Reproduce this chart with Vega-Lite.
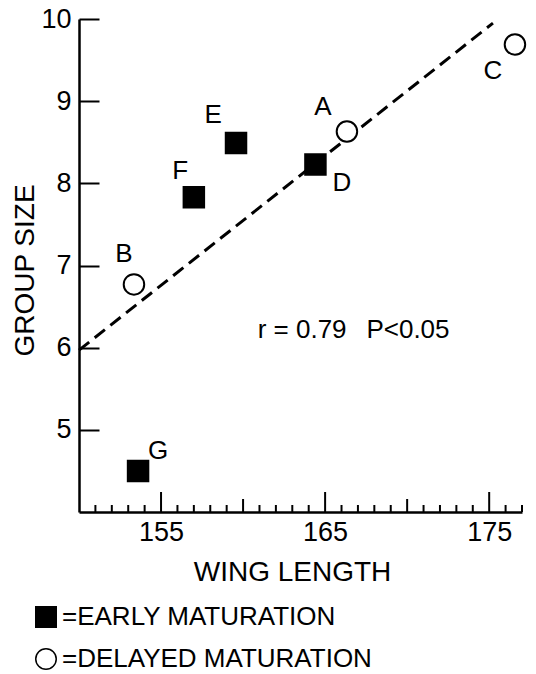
{
  "$schema": "https://vega.github.io/schema/vega-lite/v6.json",
  "width": 443,
  "height": 493,
  "autosize": "none",
  "padding": {"left": 79, "top": 19, "right": 14, "bottom": 162},
  "background": "white",
  "config": {
    "view": {"stroke": null},
    "font": "Liberation Sans",
    "axis": {
      "grid": false,
      "domainColor": "black",
      "domainWidth": 2.5,
      "tickColor": "black",
      "tickWidth": 2,
      "labelColor": "black",
      "labelFont": "Liberation Sans",
      "labelFontSize": 27,
      "titleColor": "black",
      "titleFont": "Liberation Sans",
      "titleFontSize": 28,
      "titleFontWeight": "normal",
      "labelOverlap": false,
      "labelFlush": false
    }
  },
  "datasets": {
    "pts": [
      {"name": "A", "wing": 166.33, "size": 8.63, "mat": "DELAYED MATURATION"},
      {"name": "B", "wing": 153.35, "size": 6.77, "mat": "DELAYED MATURATION"},
      {"name": "C", "wing": 176.57, "size": 9.69, "mat": "DELAYED MATURATION"},
      {"name": "D", "wing": 164.41, "size": 8.23, "mat": "EARLY MATURATION"},
      {"name": "E", "wing": 159.57, "size": 8.49, "mat": "EARLY MATURATION"},
      {"name": "F", "wing": 157.0, "size": 7.83, "mat": "EARLY MATURATION"},
      {"name": "G", "wing": 153.6, "size": 4.5, "mat": "EARLY MATURATION"}
    ],
    "fit": [
      {"wing": 150.0, "size": 5.97},
      {"wing": 175.23, "size": 9.95}
    ],
    "xt": [
      {"wing": 151}, {"wing": 152}, {"wing": 153}, {"wing": 154}, {"wing": 155},
      {"wing": 156}, {"wing": 157}, {"wing": 158}, {"wing": 159}, {"wing": 160},
      {"wing": 161}, {"wing": 162}, {"wing": 163}, {"wing": 164}, {"wing": 165},
      {"wing": 166}, {"wing": 167}, {"wing": 168}, {"wing": 169}, {"wing": 170},
      {"wing": 171}, {"wing": 172}, {"wing": 173}, {"wing": 174}, {"wing": 175},
      {"wing": 176}, {"wing": 177}
    ],
    "notes": [
      {"t": "A", "wing": 164.87, "size": 8.93},
      {"t": "B", "wing": 152.74, "size": 7.14},
      {"t": "C", "wing": 175.23, "size": 9.37},
      {"t": "D", "wing": 166.03, "size": 8.0},
      {"t": "E", "wing": 158.17, "size": 8.83},
      {"t": "F", "wing": 156.16, "size": 8.15},
      {"t": "G", "wing": 154.82, "size": 4.74},
      {"t": "r = 0.79", "wing": 163.6, "size": 6.22},
      {"t": "P<0.05", "wing": 170.05, "size": 6.22}
    ]
  },
  "layer": [
    {
      "data": {"name": "xt"},
      "transform": [{"filter": "datum.wing % 5 !== 0"}],
      "mark": {"type": "tick", "orient": "vertical", "size": 7, "thickness": 2, "yOffset": -3.5, "color": "black", "opacity": 1},
      "encoding": {
        "x": {"field": "wing", "type": "quantitative"},
        "y": {"datum": 4, "type": "quantitative"}
      }
    },
    {
      "data": {"name": "xt"},
      "transform": [{"filter": "datum.wing % 10 === 0"}],
      "mark": {"type": "tick", "orient": "vertical", "size": 13, "thickness": 2, "yOffset": -6.5, "color": "black", "opacity": 1},
      "encoding": {
        "x": {"field": "wing", "type": "quantitative"},
        "y": {"datum": 4, "type": "quantitative"}
      }
    },
    {
      "data": {"name": "xt"},
      "transform": [{"filter": "datum.wing % 10 === 5"}],
      "mark": {"type": "tick", "orient": "vertical", "size": 20, "thickness": 2, "yOffset": -10, "color": "black", "opacity": 1},
      "encoding": {
        "x": {"field": "wing", "type": "quantitative"},
        "y": {"datum": 4, "type": "quantitative"}
      }
    },
    {
      "data": {"name": "fit"},
      "mark": {"type": "line", "color": "black", "strokeWidth": 3, "strokeDash": [13, 7]},
      "encoding": {
        "x": {"field": "wing", "type": "quantitative"},
        "y": {"field": "size", "type": "quantitative"}
      }
    },
    {
      "data": {"name": "pts"},
      "mark": {"type": "point", "stroke": "black", "strokeWidth": 2, "size": 420, "opacity": 1},
      "encoding": {
        "x": {
          "field": "wing",
          "type": "quantitative",
          "scale": {"domain": [150, 177], "nice": false, "zero": false},
          "axis": {
            "title": "WING LENGTH",
            "values": [155, 165, 175],
            "format": "d",
            "ticks": false,
            "labelOverlap": false,
            "labelPadding": 7,
            "titleX": 213,
            "titleY": 68,
            "titleBaseline": "alphabetic"
          }
        },
        "y": {
          "field": "size",
          "type": "quantitative",
          "scale": {"domain": [4, 10], "nice": false, "zero": false},
          "axis": {
            "title": "GROUP SIZE",
            "format": "d",
            "values": [5, 6, 7, 8, 9, 10],
            "tickCount": 100,
            "tickSize": -20,
            "labelOverlap": false,
            "labelPadding": 28,
            "titleX": -46,
            "titleY": 251,
            "titleBaseline": "alphabetic"
          }
        },
        "shape": {
          "field": "mat",
          "type": "nominal",
          "scale": {"domain": ["EARLY MATURATION", "DELAYED MATURATION"], "range": ["square", "circle"]},
          "legend": {
            "orient": "none",
            "legendX": -46,
            "legendY": 585,
            "title": null,
            "labelFontSize": 26,
            "labelFont": "Liberation Sans",
            "labelColor": "black",
            "labelLimit": 500,
            "labelExpr": "'=' + datum.label",
            "symbolSize": 420,
            "rowPadding": 14,
            "labelOffset": 3,
            "encode": {
              "symbols": {
                "update": {
                  "stroke": {"value": "black"},
                  "strokeWidth": {"value": 2},
                  "opacity": {"value": 1},
                  "fill": {"signal": "datum.value === 'EARLY MATURATION' ? 'black' : 'white'"}
                }
              }
            }
          }
        },
        "fill": {
          "field": "mat",
          "type": "nominal",
          "scale": {"domain": ["EARLY MATURATION", "DELAYED MATURATION"], "range": ["black", "white"]},
          "legend": null
        }
      }
    },
    {
      "data": {"name": "notes"},
      "mark": {"type": "text", "font": "Liberation Sans", "fontSize": 26, "color": "black", "align": "center", "baseline": "middle"},
      "encoding": {
        "x": {"field": "wing", "type": "quantitative"},
        "y": {"field": "size", "type": "quantitative"},
        "text": {"field": "t", "type": "nominal"}
      }
    }
  ]
}
